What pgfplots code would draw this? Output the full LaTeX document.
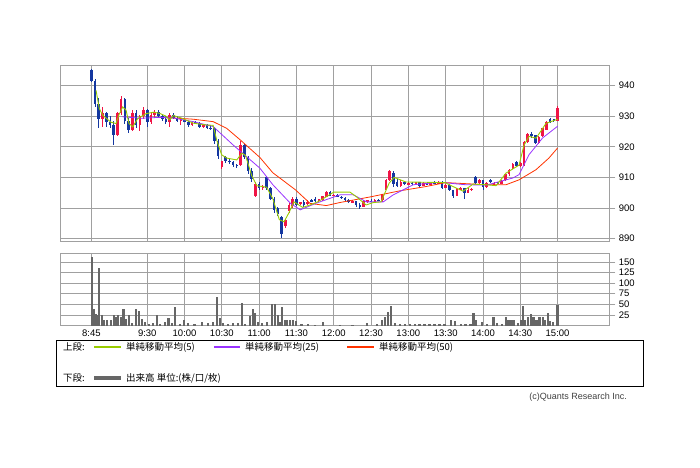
\documentclass[border=0pt]{standalone}
\usepackage{fontspec}
\setmainfont{Liberation Sans}
\newfontfamily\jp{Noto Sans CJK JP}
\usepackage{pgfplots}
\pgfplotsset{compat=1.18}
\usepackage{pgfplotstable}

\definecolor{gridc}{RGB}{160,160,160}
\definecolor{upc}{RGB}{240,20,70}
\definecolor{dnc}{RGB}{20,55,160}
\definecolor{ma5c}{RGB}{153,204,0}
\definecolor{ma25c}{RGB}{153,51,255}
\definecolor{ma50c}{RGB}{255,51,0}
\definecolor{volc}{RGB}{102,102,102}

\pgfplotstableread{
t o h l c
9 929.0 933.0 926.5 931.0
21 924.0 931.5 923.5 931.0
24 931.0 936.5 930.5 935.5
33 925.5 932.0 925.0 931.0
39 927.0 930.5 925.0 930.0
42 930.0 933.0 929.0 932.0
48 928.0 931.0 927.5 930.5
51 930.5 932.0 929.5 931.5
63 928.0 931.0 926.5 930.5
72 928.5 929.0 927.0 928.8
81 927.0 928.5 926.8 928.0
90 926.5 927.5 926.0 927.0
105 913.5 915.5 912.8 915.2
120 914.0 922.0 913.8 920.5
132 904.0 908.5 903.5 908.0
138 906.5 907.5 906.0 907.0
156 894.0 896.5 893.5 896.0
159 899.0 901.5 898.5 901.0
162 900.5 903.5 900.0 903.0
168 901.5 902.0 901.0 901.8
174 901.5 902.5 901.0 902.0
183 902.5 903.0 902.0 902.8
186 902.6 904.0 902.3 903.8
189 903.6 905.5 903.5 905.3
195 904.0 904.5 903.8 904.3
210 902.0 902.5 901.8 902.2
219 900.5 902.5 900.3 902.2
222 902.2 902.7 901.8 902.4
228 902.3 902.8 902.0 902.6
234 902.5 904.5 902.0 904.2
237 906.0 909.5 905.8 909.0
240 909.0 912.5 908.8 912.0
249 907.2 909.0 907.0 908.5
255 907.8 908.5 907.5 908.2
261 908.0 908.6 907.8 908.4
267 907.3 908.6 907.2 908.3
273 907.6 908.6 907.5 908.4
279 908.1 908.7 907.8 908.5
285 906.6 908.0 906.4 907.6
294 904.0 906.5 903.8 906.2
297 906.2 906.8 905.8 906.4
303 905.0 906.5 904.8 906.0
306 906.0 906.5 905.5 906.2
312 908.2 909.5 907.5 909.0
318 906.8 908.5 906.5 908.2
324 907.5 908.6 907.2 908.3
330 908.0 909.0 907.9 908.8
333 909.0 911.2 908.8 911.0
336 911.0 912.6 910.6 912.3
339 912.8 914.7 912.6 914.5
345 913.8 915.0 913.5 914.6
348 914.0 922.0 913.8 921.5
351 921.5 924.6 921.2 924.2
360 921.2 923.5 921.0 923.2
363 923.4 926.2 923.2 926.0
366 925.6 928.3 925.4 928.0
375 928.5 933.2 928.3 932.8
}\upt

\pgfplotstableread{
t o h l c
0 945.0 945.5 941.0 941.5
3 941.5 942.0 933.0 934.0
6 934.0 936.0 926.0 929.0
12 931.0 931.5 926.5 928.0
15 928.0 930.0 926.0 927.0
18 927.0 928.5 920.5 924.0
27 935.5 936.0 927.5 928.5
30 928.5 929.5 924.5 925.5
36 931.0 932.0 926.0 927.0
45 932.0 932.5 926.5 928.0
54 931.5 932.0 929.5 930.0
57 930.0 930.5 928.5 929.0
60 929.0 930.0 927.5 928.0
66 930.5 931.0 929.0 929.5
69 929.5 930.0 928.0 928.5
75 928.8 929.0 928.0 928.2
78 928.2 928.5 926.5 927.0
84 928.0 928.5 927.5 927.8
87 927.8 928.0 926.0 926.5
93 927.0 927.5 925.8 926.2
96 926.2 927.0 925.5 926.0
99 926.0 926.5 921.0 922.0
102 922.0 922.5 916.0 917.0
108 916.5 917.0 914.8 915.2
111 915.5 916.0 914.5 915.0
114 915.0 915.5 913.5 914.0
117 914.0 914.5 913.2 913.8
123 920.5 921.0 916.0 916.8
126 916.8 917.0 911.0 912.0
129 912.0 913.0 908.5 909.5
135 908.0 908.5 906.0 906.5
141 910.0 910.5 906.0 906.5
144 906.5 907.0 902.5 903.0
147 903.0 903.5 898.5 899.5
150 900.0 900.5 897.5 898.0
153 897.0 897.5 890.2 891.5
165 903.0 903.5 900.5 901.0
171 902.0 902.5 900.5 901.0
177 902.5 903.0 902.0 902.3
180 902.8 903.5 902.0 902.5
192 905.3 905.5 903.8 904.0
198 904.3 904.5 903.5 903.7
201 903.7 904.0 903.0 903.2
204 903.2 903.5 902.0 902.5
207 902.5 902.8 901.5 902.0
213 902.2 902.4 900.5 901.0
216 901.0 901.5 899.8 900.5
225 902.4 902.8 902.0 902.1
231 902.6 903.0 902.3 902.5
243 911.5 912.0 907.0 907.8
246 908.5 909.5 907.0 907.2
252 908.5 908.8 907.5 907.8
258 908.2 908.5 907.6 908.0
264 908.4 908.6 907.0 907.3
270 908.3 908.5 907.4 907.6
276 908.4 908.7 907.9 908.1
282 908.5 908.7 906.3 906.6
288 907.6 907.8 905.5 905.8
291 905.8 906.0 903.2 904.0
300 906.4 906.6 903.0 904.8
309 910.0 910.5 907.8 908.2
315 909.0 909.3 906.0 906.8
321 909.2 909.4 908.2 908.4
327 908.3 908.6 907.8 908.0
342 914.9 915.2 913.5 913.8
354 924.2 924.8 923.0 923.5
357 923.8 924.0 920.8 921.2
369 929.2 929.5 927.8 928.1
372 929.0 929.2 928.0 928.3
}\dnt

\pgfplotstableread{
t v
3.8 938.4
6.4 932.5
9.2 930.3
15.8 928
19.9 927.6
22.3 930.5
25.2 933
27.9 932
30.3 927.6
33.3 926.5
37.3 929.2
44 930.8
50 931.3
55 930.9
60 930
63 928.8
66 930.2
73 929.3
82 927.7
92.8 927.1
98 927
100.8 922.2
104.8 917.4
108.9 916.3
117 915.7
121 917.9
124 917.2
129 910.6
133 907.3
141 906.8
146 903
151.2 896.2
155 895.5
159 898.5
163 902
170 900.2
176 901
182 902
188.7 903.6
195 905.2
208 905.2
212.8 903.8
221 901
227 901.8
233 902
239.5 908.1
243.5 910
253 908.5
270 908.4
284.5 908.3
293 906.6
299 905.5
307 907.8
317.6 907.6
325.6 907.3
333.5 911.4
344 914
348 920.5
352 923.4
357.7 922.8
365.6 927.6
375 929
}\mafive

\pgfplotstableread{
t v
25 929.8
40 929.3
55 929.6
66 929.4
82 928.2
98 926.6
114 920.6
135.6 913
146 907.6
160 901.6
168 899.4
181 901.6
200 904.3
210.7 904.3
221.4 902
234.8 902
242.8 904.3
259 907.6
280.4 908.4
301 907.6
318 907.5
339 909.8
344 910.9
352 917.4
363 922.9
375 926.7
}\matwentyfive

\pgfplotstableread{
t v
55 929.6
66 929.4
82 929
98 928.2
108.9 926
119.6 922.3
135.6 916.5
146 911.5
164 906
176 901.5
189 900.8
200 901.8
224 903.6
248 905.6
269 907
285 908.3
317.6 907.6
333.5 907.6
344 909.2
357.6 912.5
368 916.3
375 919.6
}\mafifty

\pgfplotstableread{
t v
0.3 163
2.2 40
3.8 28
5.4 24
6.4 135
8.6 26
10.2 12
12.9 13
16 12
18.3 26
19.9 20
21.7 24
23.9 20
25.8 40
27.6 16
30.6 26
32.7 6
36 38
38.4 34
40.8 16
43.4 8
46.6 4
49.9 6
52.8 24
55.2 4
59 8
62 18
64.6 6
67 44
71.3 3
74.5 12
78 6
83 3
88.8 8
94 6
97.6 8
101.3 67
103.5 18
106.2 6
110 4
114 6
118 5
121.2 53
123.6 3
127.3 22
130.3 40
131.9 30
134.3 8
137 5
141 8
145 50
147.7 50
149.9 24
151.7 8
153.3 44
155.7 12
157.5 14
159.8 14
162 12
164.3 10
169.1 3
174.5 3
180 2
186.5 8
200 2
210 2
221.4 6
229.5 3
233.5 12
236 21
238.6 31
241 45
244 6
248 4
252 4
256 3
260 4
264 3
268 4
272 3
276 4
280 3
284 4
289.5 14
292.2 10
297 4
301 4
305 4
307.4 30
309 14
314 8
318 4
323.5 21
326.5 5
330 4
333.4 21
335.6 14
337.7 12
339.6 14
343 5
345.3 14
346.9 45
349 14
351.4 21
353.8 27
355.7 19
358.1 14
360.5 21
363 19
365 12
367.2 30
369 10
371.2 8
375 48
}\volt

\pgfplotsset{
  panel/.style={scale only axis, xmin=-25.2, xmax=416.6,
    width=549.3pt,
    xtick={0,45,75,105,135,165,195,225,255,285,315,345,375},
    grid=major, grid style={gridc, line width=0.8pt},
    axis line style={gridc, line width=0.8pt},
    ytick pos=right, yticklabel pos=right,
    tick align=outside, major tick length=6pt,
    xtick style={draw=none}, ytick style={gridc, line width=0.8pt},
    tick label style={font=\fontsize{9.5}{10}\selectfont, text=black},
    /pgf/number format/assume math mode=true,
  },
  candle/.style={only marks, mark size=0pt, mark options={draw opacity=0, fill opacity=0},
    error bars/.cd, y dir=both, y explicit, error mark=none, error bar style={#1}},
}

\begin{document}
\begin{tikzpicture}
\useasboundingbox (0pt,0pt) rectangle (700pt,467pt);
\begin{axis}[panel, anchor=south west, at={(60pt,225.3pt)}, height=176.7pt, ymin=889, ymax=946.7,
  ytick={890,900,...,940}, xticklabels={}]
\addplot[candle={upc, line width=0.9pt}] table[x=t, y expr={(\thisrow{h}+\thisrow{l})/2}, y error expr={(\thisrow{h}-\thisrow{l})/2}] {\upt};
\addplot[candle={upc, line width=2.6pt}] table[x=t, y expr={(\thisrow{o}+\thisrow{c})/2}, y error expr={max(abs(\thisrow{c}-\thisrow{o})/2,0.2)}] {\upt};
\addplot[candle={dnc, line width=0.9pt}] table[x=t, y expr={(\thisrow{h}+\thisrow{l})/2}, y error expr={(\thisrow{h}-\thisrow{l})/2}] {\dnt};
\addplot[candle={dnc, line width=2.6pt}] table[x=t, y expr={(\thisrow{o}+\thisrow{c})/2}, y error expr={max(abs(\thisrow{c}-\thisrow{o})/2,0.2)}] {\dnt};
\addplot[ma50c, line width=0.8pt] table[x=t, y=v] {\mafifty};
\addplot[ma25c, line width=0.8pt] table[x=t, y=v] {\matwentyfive};
\addplot[ma5c, line width=0.9pt] table[x=t, y=v] {\mafive};
\end{axis}

\begin{axis}[panel, anchor=south west, at={(60pt,141.5pt)}, height=72.5pt, ymin=0, ymax=171.3,
  ytick={25,50,...,150},
  xticklabels={8:45,9:30,10:00,10:30,11:00,11:30,12:00,12:30,13:00,13:30,14:00,14:30,15:00},
  xticklabel style={yshift=5pt}]
\addplot[ycomb, volc, line width=2.2pt] table[x=t, y=v] {\volt};
\end{axis}

\draw[black, line width=0.8pt] (56.5pt,81pt) rectangle (643.5pt,127pt);
\begin{scope}[every node/.style={anchor=west, inner sep=0pt, font=\jp\fontsize{9.5}{10}\selectfont}]
\node at (63pt,120pt) {上段:};
\draw[draw=ma5c, line width=1.2pt] (94pt,120pt) -- (121pt,120pt);
\node at (126pt,120pt) {単純移動平均(5)};
\draw[draw=ma25c, line width=1.2pt] (214pt,120pt) -- (240pt,120pt);
\node at (245pt,120pt) {単純移動平均(25)};
\draw[draw=ma50c, line width=1.2pt] (347pt,120pt) -- (374pt,120pt);
\node at (379pt,120pt) {単純移動平均(50)};
\node at (63pt,89pt) {下段:};
\draw[draw=volc, line width=3.5pt] (94pt,89pt) -- (121pt,89pt);
\node at (126pt,89pt) {出来高 単位:(株/口/枚)};
\end{scope}
\node[anchor=east, inner sep=0pt, font=\fontsize{9}{10}\selectfont, text=black!75] at (627pt,70pt) {(c)Quants Research Inc.};
\end{tikzpicture}
\end{document}
